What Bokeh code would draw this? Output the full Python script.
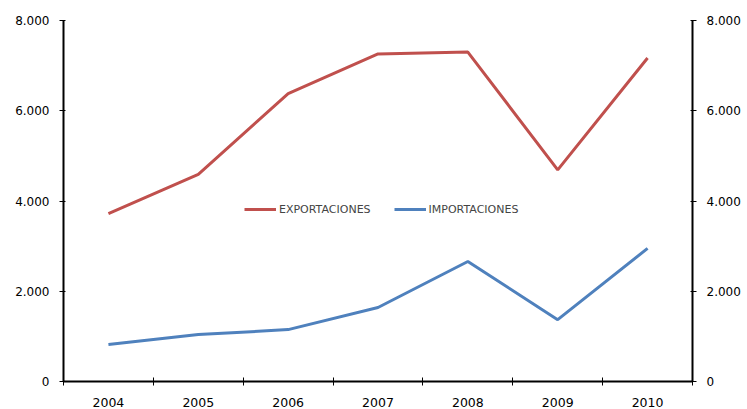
from bokeh.plotting import figure
from bokeh.models import FixedTicker, LinearAxis, Legend, LegendItem, Range1d
from bokeh.embed import file_html
from bokeh.resources import INLINE

years = ["2004", "2005", "2006", "2007", "2008", "2009", "2010"]
exportaciones = [3720, 4590, 6380, 7260, 7300, 4690, 7170]
importaciones = [820, 1040, 1150, 1640, 2660, 1370, 2950]
y_ticks = [0, 2000, 4000, 6000, 8000]
y_labels = ["0", "2.000", "4.000", "6.000", "8.000"]

FONT = "DejaVu Sans"
x = [i + 0.5 for i in range(len(years))]

p = figure(frame_width=629, frame_height=361, output_backend="svg", toolbar_location=None,
           x_range=Range1d(0, len(years)), y_range=Range1d(0, 8000),
           min_border_left=63, min_border_right=55, min_border_top=20, min_border_bottom=28)
p.outline_line_color = None
p.grid.visible = False
p.background_fill_color = "white"
p.border_fill_color = "white"

r1 = p.line(x, exportaciones, line_color="#C0504D", line_width=3)
r2 = p.line(x, importaciones, line_color="#4F81BD", line_width=3)

xa = p.xaxis[0]
xa.ticker = FixedTicker(ticks=x, minor_ticks=list(range(len(years) + 1)))
xa.major_label_overrides = {xv: yr for xv, yr in zip(x, years)}
xa.major_tick_out = 0
xa.major_tick_in = 0
xa.minor_tick_out = 4
xa.minor_tick_in = 4
xa.minor_tick_line_color = "black"
xa.axis_line_width = 2
xa.major_label_text_font = FONT
xa.major_label_text_font_size = "12.5px"
xa.major_label_text_color = "black"
xa.major_label_standoff = 12

ya = p.yaxis[0]
ya.ticker = FixedTicker(ticks=y_ticks, minor_ticks=[])
ya.major_label_overrides = {t: l for t, l in zip(y_ticks, y_labels)}
ya.major_tick_out = 4
ya.major_tick_in = 2
ya.axis_line_width = 2
ya.major_label_text_font = FONT
ya.major_label_text_font_size = "12px"
ya.major_label_text_color = "black"
ya.major_label_standoff = 10

ra = LinearAxis(ticker=FixedTicker(ticks=y_ticks, minor_ticks=[]),
                major_label_overrides={t: l for t, l in zip(y_ticks, y_labels)})
ra.major_tick_out = 4
ra.major_tick_in = 2
ra.axis_line_width = 2
ra.major_label_text_font = FONT
ra.major_label_text_font_size = "12px"
ra.major_label_text_color = "black"
ra.major_label_standoff = 10
p.add_layout(ra, "right")

legend = Legend(items=[LegendItem(label="EXPORTACIONES", renderers=[r1]),
                       LegendItem(label="IMPORTACIONES", renderers=[r2])],
                orientation="horizontal", location=(181, 162),
                border_line_color=None, background_fill_alpha=0,
                label_text_font=FONT, label_text_font_size="11px",
                glyph_width=32, spacing=23, padding=0, margin=0,
                label_standoff=3)
p.add_layout(legend, "center")

open("out.html", "w").write(file_html(p, INLINE))
